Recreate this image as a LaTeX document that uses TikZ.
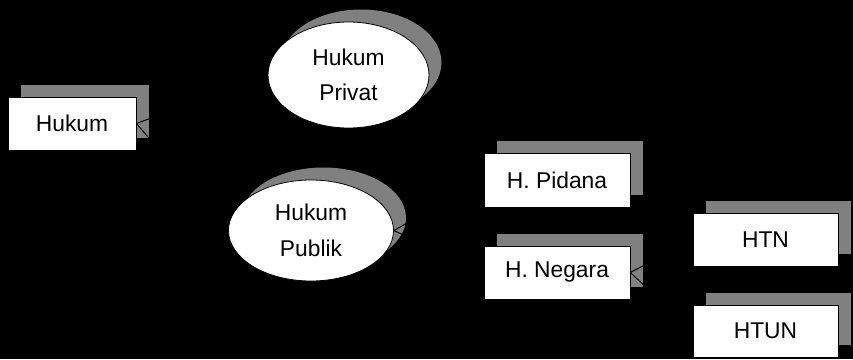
\documentclass[tikz,border=0pt]{standalone}
\usepackage{fontspec}
\setmainfont{Liberation Sans}
\usetikzlibrary{shapes.geometric,shadows}
\definecolor{shadowgray}{RGB}{128,128,128}
\tikzset{
  shad/.style={general shadow={shadow xshift=12.5pt,shadow yshift=12.5pt,fill=shadowgray}},
  lbl/.style={font=\fontsize{22.8}{35.5}\selectfont,text=black,align=center,inner sep=0pt},
  boxnode/.style={lbl,shad,draw=black,line width=0.8pt,fill=white,rectangle},
  ovalnode/.style={lbl,shad,draw=black,line width=0.8pt,fill=white,ellipse},
  link/.style={draw=black,line width=1pt}
}
\begin{document}
\begin{tikzpicture}[x=1pt,y=-1pt]
\fill[black] (0,0) rectangle (853,359);
\useasboundingbox (0,0) rectangle (853,359);
\node[boxnode,minimum width=128pt,minimum height=53pt] (hukum) at (72,123.5) {Hukum};
\node[ovalnode,minimum width=161pt,minimum height=106pt] (privat) at (348.5,75) {Hukum\\Privat};
\node[ovalnode,minimum width=165pt,minimum height=101pt] (publik) at (311,230.5) {Hukum\\Publik};
\node[boxnode,minimum width=146pt,minimum height=54pt] (pidana) at (557,180) {H. Pidana};
\node[boxnode,minimum width=146pt,minimum height=53pt] (negara) at (557,272.5) {H. Negara};
\node[boxnode,minimum width=145pt,minimum height=53pt] (htn) at (765.5,239.5) {HTN};
\node[boxnode,minimum width=145pt,minimum height=52pt] (htun) at (765.5,331) {HTUN};
\draw[link] (hukum.east) -- (privat.west);
\draw[link] (hukum.east) -- (publik.west);
\draw[link] (publik.east) -- (pidana.west);
\draw[link] (publik.east) -- (negara.west);
\draw[link] (negara.east) -- (htn.west);
\draw[link] (negara.east) -- (htun.west);
\end{tikzpicture}
\end{document}
